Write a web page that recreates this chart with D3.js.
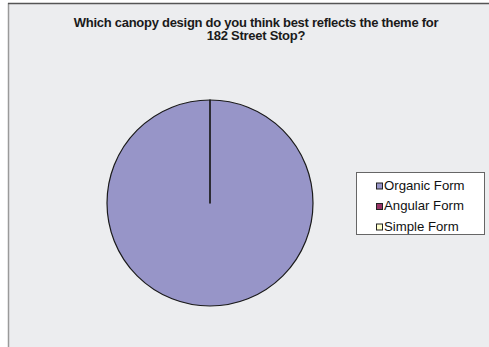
<!DOCTYPE html>
<html><head><meta charset="utf-8">
<script src="https://cdn.jsdelivr.net/npm/d3@7"></script>
<style>body{margin:0;background:#fff}svg{display:block}</style>
</head><body>
<script>
const categories = ["Organic Form", "Angular Form", "Simple Form"];
const values = [100, 0, 0];
const colors = ["#9795C8", "#993366", "#FFFFCC"];
const titleLines = ["Which canopy design do you think best reflects the theme for", "182 Street Stop?"];

const W = 489, H = 347;
const svg = d3.select("body").append("svg").attr("width", W).attr("height", H);

// chart area background
svg.append("rect").attr("x", 8).attr("y", 3).attr("width", W - 8).attr("height", H - 3).attr("fill", "#ECEDEF");
svg.append("line").attr("x1", 8.5).attr("x2", 8.5).attr("y1", 3).attr("y2", H).attr("stroke", "#9a9a9a").attr("stroke-width", 1.5);
svg.append("line").attr("x1", 8).attr("x2", W).attr("y1", 3.5).attr("y2", 3.5).attr("stroke", "#555").attr("stroke-width", 1.3);

// title
const title = svg.append("text").attr("text-anchor", "middle")
  .attr("font-family", "Liberation Sans, Arial, sans-serif").attr("font-weight", "bold")
  .attr("font-size", 13).attr("fill", "#1a1a1a").attr("letter-spacing", "-0.27px");
title.selectAll("tspan").data(titleLines).join("tspan")
  .attr("x", 256).attr("y", (d, i) => 26.5 + i * 13.6).text(d => d);

// pie
const cx = 210, cy = 203, r = 103;
const pie = d3.pie().sort(null).value(d => d);
const arc = d3.arc().innerRadius(0).outerRadius(r);
const g = svg.append("g").attr("transform", `translate(${cx},${cy})`);
g.selectAll("path").data(pie(values)).join("path")
  .attr("d", arc)
  .attr("fill", (d, i) => colors[i])
  .attr("stroke", "#1a1a1a").attr("stroke-width", 1.2).attr("stroke-linejoin", "round");

// legend
const lx = 356, ly = 172, lw = 128, lh = 62;
const leg = svg.append("g");
leg.append("rect").attr("x", lx + 0.5).attr("y", ly + 0.5).attr("width", lw).attr("height", lh)
  .attr("fill", "#fff").attr("stroke", "#666").attr("stroke-width", 1);
const y = d3.scalePoint().domain(categories).range([ly + 13.5, ly + 54.5]);
const items = leg.selectAll("g.item").data(categories).join("g").attr("class", "item");
items.append("rect").attr("x", 376.5).attr("y", d => y(d) - 2.5).attr("width", 6).attr("height", 6)
  .attr("fill", (d, i) => colors[i]).attr("stroke", "#222").attr("stroke-width", 1);
items.append("text").attr("x", 384).attr("y", d => y(d) + 4.2)
  .attr("font-family", "Liberation Sans, Arial, sans-serif").attr("font-size", 13.2)
  .attr("fill", "#111").text(d => d);
</script>
</body></html>
